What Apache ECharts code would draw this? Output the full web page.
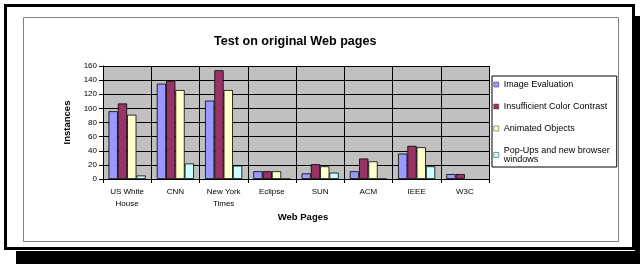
<!DOCTYPE html>
<html>
<head>
<meta charset="utf-8">
<script src="https://cdn.jsdelivr.net/npm/echarts@6/dist/echarts.min.js"></script>
<style>
  html, body { margin: 0; padding: 0; background: #fff; }
  #chart { width: 640px; height: 264px; }
</style>
</head>
<body>
<div id="chart"></div>
<script>
// 网页类别
var categories = ['US White\nHouse', 'CNN', 'New York\nTimes', 'Eclipse', 'SUN', 'ACM', 'IEEE', 'W3C'];
var seriesNames = ['Image Evaluation', 'Insufficient Color Contrast', 'Animated Objects', 'Pop-Ups and new browser windows'];
// values
var imageEvaluation = [96, 135, 111, 11, 8, 11, 36, 7];
var colorContrast = [107, 139, 154, 11, 21, 29, 47, 7];
var animatedObjects = [91, 126, 126, 11, 18, 25, 45, null];
var popUps = [5, 22, 19, 0, 9, 0, 18, null];
var yTicks = { min: 0, max: 160, interval: 20 };

var colors = ['#9999FF', '#993366', '#FFFFCC', '#CCFFFF'];
var font = 'Liberation Sans, Arial, sans-serif';

var myChart = echarts.init(document.getElementById('chart'));

function bar(name, data, color) {
  return {
    name: name,
    type: 'bar',
    data: data,
    barGap: '0%',
    barCategoryGap: '23%',
    itemStyle: { color: color, borderColor: '#000', borderWidth: 0.8 }
  };
}

var option = {
  backgroundColor: '#fff',
  animation: false,
  textStyle: { fontFamily: font },
  graphic: [
    // 外框阴影
    { type: 'rect', z: -10, shape: { x: 16, y: 251, width: 624, height: 13 }, style: { fill: '#000' } },
    { type: 'rect', z: -10, shape: { x: 635, y: 16, width: 5, height: 248 }, style: { fill: '#000' } },
    // 外框
    { type: 'rect', z: -9, shape: { x: 5.5, y: 5.5, width: 628, height: 243 }, style: { fill: '#fff', stroke: '#000', lineWidth: 3 } },
    // 内框
    { type: 'rect', z: -8, shape: { x: 23.5, y: 17.5, width: 595, height: 224 }, style: { fill: 'none', stroke: '#808080', lineWidth: 1 } }
  ],
  title: {
    text: 'Test on original Web pages',
    left: 214,
    top: 35,
    padding: 0,
    textStyle: { fontFamily: font, fontSize: 12.6, fontWeight: 'bold', color: '#000' }
  },
  legend: {
    orient: 'vertical',
    left: 492,
    top: 76,
    padding: [4, 3, 3, 1.5],
    itemGap: 13,
    itemWidth: 5,
    itemHeight: 5,
    icon: 'rect',
    itemStyle: { borderColor: '#333', borderWidth: 0.5 },
    borderColor: '#000',
    borderWidth: 1,
    backgroundColor: '#fff',
    data: seriesNames,
    textStyle: {
      fontFamily: font,
      fontSize: 9,
      lineHeight: 9,
      color: '#000',
      width: 110,
      overflow: 'break'
    }
  },
  grid: {
    left: 103,
    top: 66,
    width: 386,
    height: 113,
    show: true,
    backgroundColor: '#C0C0C0',
    borderWidth: 0
  },
  xAxis: {
    type: 'category',
    data: categories,
    name: 'Web Pages',
    nameLocation: 'middle',
    nameGap: 33,
    nameTextStyle: { fontFamily: font, fontSize: 9.5, fontWeight: 'bold', color: '#000', padding: [0, 0, 0, 14] },
    axisLine: { lineStyle: { color: '#000', width: 1 } },
    axisTick: { show: true, length: 4, lineStyle: { color: '#000' } },
    axisLabel: { fontFamily: font, fontSize: 8, lineHeight: 12, color: '#000', margin: 7, interval: 0 },
    splitLine: { show: true, lineStyle: { color: '#000', width: 1 } }
  },
  yAxis: {
    type: 'value',
    min: yTicks.min,
    max: yTicks.max,
    interval: yTicks.interval,
    name: 'Instances',
    nameLocation: 'middle',
    nameGap: 30,
    nameTextStyle: { fontFamily: font, fontSize: 9.5, fontWeight: 'bold', color: '#000' },
    axisLine: { show: true, lineStyle: { color: '#000', width: 1 } },
    axisTick: { show: true, length: 4, lineStyle: { color: '#000' } },
    axisLabel: { fontFamily: font, fontSize: 8, color: '#000', margin: 6 },
    splitLine: { show: true, lineStyle: { color: '#000', width: 1 } }
  },
  series: [
    bar(seriesNames[0], imageEvaluation, colors[0]),
    bar(seriesNames[1], colorContrast, colors[1]),
    bar(seriesNames[2], animatedObjects, colors[2]),
    bar(seriesNames[3], popUps, colors[3])
  ]
};

myChart.setOption(option);
</script>
</body>
</html>
